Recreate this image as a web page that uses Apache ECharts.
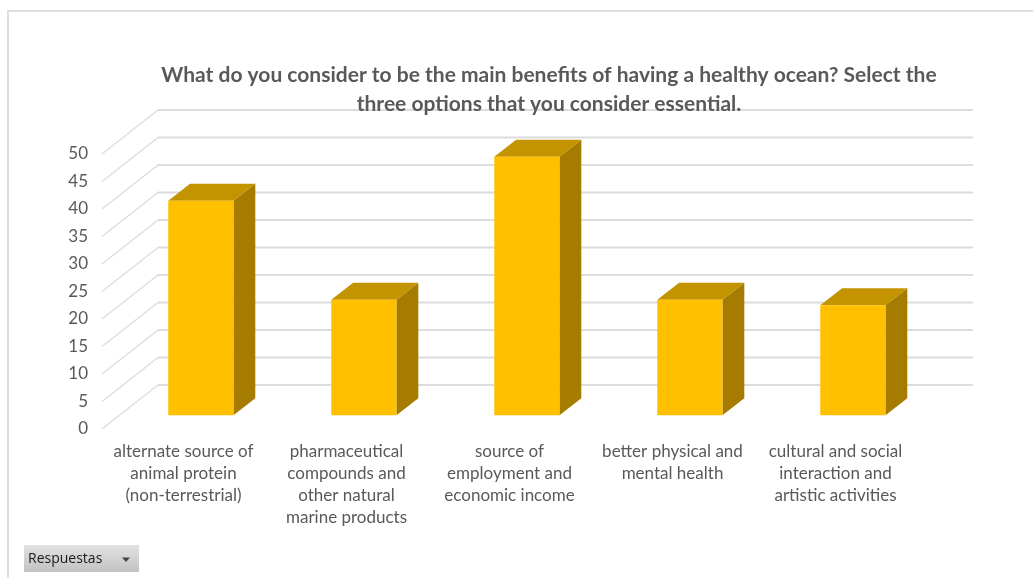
<!DOCTYPE html>
<html>
<head>
<meta charset="utf-8">
<style>
  html, body { margin: 0; padding: 0; background: #fff; }
  #chart { width: 1033px; height: 578px; }
</style>
<script src="https://cdn.jsdelivr.net/npm/echarts@6/dist/echarts.min.js"></script>
</head>
<body>
<div id="chart"></div>
<script>
// Survey responses per benefit
const categories = [
  'alternate source of\nanimal protein\n(non-terrestrial)',
  'pharmaceutical\ncompounds and\nother natural\nmarine products',
  'source of\nemployment and\neconomic income',
  'better physical and\nmental health',
  'cultural and social\ninteraction and\nartistic activities'
];
const responses = [39, 21, 47, 21, 20];
const valueTicks = [0, 5, 10, 15, 20, 25, 30, 35, 40, 45, 50];
const titleText = 'What do you consider to be the main benefits of having a healthy ocean? Select the\nthree options that you consider essential.';
const filterLabel = 'Respuestas';

// Oblique projection of the floor depth, in pixels
const floorDx = 56, floorDy = -44;
// Where a column sits inside that depth, as a share of it
const columnNear = 0.31, columnFar = 0.70;

const textColor = '#595959';
const gridColor = '#dcdcdc';
const faceColors = { front: '#ffc000', top: '#c39300', side: '#a67c00' };

function renderWall(params, api) {
  const cs = params.coordSys;
  const p = api.coord([0, api.value(0)]);
  const y = p[1], x0 = cs.x, x1 = cs.x + cs.width;
  return {
    type: 'group',
    children: [
      { type: 'line', shape: { x1: x0, y1: y, x2: x0 + floorDx, y2: y + floorDy },
        style: { stroke: gridColor, lineWidth: 1.3 } },
      { type: 'line', shape: { x1: x0 + floorDx, y1: y + floorDy, x2: x1 + floorDx, y2: y + floorDy },
        style: { stroke: gridColor, lineWidth: 1.8 } }
    ]
  };
}

function renderColumn(params, api) {
  const top = api.coord([api.value(0), api.value(1)]);
  const base = api.coord([api.value(0), 0]);
  const w = api.size([1, 0])[0] * 0.4;
  const nx = floorDx * columnNear, ny = floorDy * columnNear;
  const dx = floorDx * (columnFar - columnNear), dy = floorDy * (columnFar - columnNear);
  const l = top[0] - w / 2 + nx, r = top[0] + w / 2 + nx;
  const t = top[1] + ny, b = base[1] + ny;
  return {
    type: 'group',
    children: [
      { type: 'polygon', shape: { points: [[r, t], [r + dx, t + dy], [r + dx, b + dy], [r, b]] },
        style: { fill: faceColors.side } },
      { type: 'polygon', shape: { points: [[l, t], [l + dx, t + dy], [r + dx, t + dy], [r, t]] },
        style: { fill: faceColors.top } },
      { type: 'rect', shape: { x: l, y: t, width: r - l, height: b - t },
        style: { fill: faceColors.front } }
    ]
  };
}

const chart = echarts.init(document.getElementById('chart'));
chart.setOption({
  animation: false,
  backgroundColor: '#ffffff',
  title: {
    text: titleText,
    left: 544,
    top: 56,
    textAlign: 'center',
    textStyle: {
      fontFamily: 'Lato', fontSize: 21, fontWeight: 'bold', color: textColor, lineHeight: 29
    }
  },
  grid: { left: 102, top: 154, width: 815, height: 275 },
  xAxis: {
    type: 'category',
    data: categories,
    axisLine: { show: false },
    axisTick: { show: false },
    axisLabel: {
      interval: 0, margin: 12, lineHeight: 22,
      fontFamily: 'Lato', fontSize: 17, color: textColor
    }
  },
  yAxis: {
    type: 'value',
    min: 0, max: 50, interval: 5,
    axisLine: { show: false },
    axisTick: { show: false },
    splitLine: { show: false },
    axisLabel: { margin: 14, fontFamily: 'Lato', fontSize: 17, color: textColor }
  },
  series: [
    {
      type: 'custom', name: 'wall', silent: true, z: 1,
      renderItem: renderWall,
      encode: { y: 0 },
      data: valueTicks.map(v => [v])
    },
    {
      type: 'custom', name: 'Respuestas', z: 2,
      renderItem: renderColumn,
      encode: { x: 0, y: 1 },
      data: responses.map((v, i) => [i, v])
    }
  ],
  graphic: [
    { type: 'rect', silent: true, shape: { x: 8, y: 10, width: 1025, height: 2 }, style: { fill: '#dedede' } },
    { type: 'rect', silent: true, shape: { x: 7, y: 10, width: 2, height: 568 }, style: { fill: '#dedede' } },
    {
      type: 'rect', silent: true, shape: { x: 24, y: 545, width: 115, height: 27 },
      style: {
        fill: new echarts.graphic.LinearGradient(0, 0, 0, 1, [
          { offset: 0, color: '#e2e2e2' }, { offset: 1, color: '#c2c2c2' }
        ])
      }
    },
    {
      type: 'text', silent: true, x: 28, y: 559,
      style: { text: filterLabel, fontFamily: 'Open Sans', fontSize: 14, fill: '#1a1a1a', verticalAlign: 'middle' }
    },
    {
      type: 'polygon', silent: true,
      shape: { points: [[122, 557.5], [130, 557.5], [126, 562]] },
      style: { fill: '#444444' }
    }
  ]
});
</script>
</body>
</html>
